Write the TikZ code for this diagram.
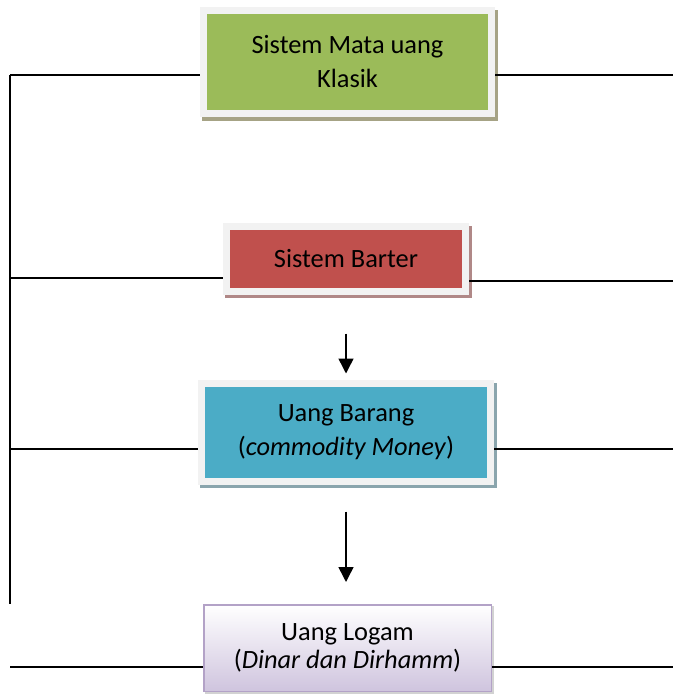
\documentclass[tikz,border=0pt]{standalone}
\usepackage{fontspec}
\setmainfont{Carlito}
\usetikzlibrary{arrows.meta,positioning,backgrounds}
\definecolor{klasikgreen}{HTML}{9BBB59}
\definecolor{barterred}{HTML}{C0504D}
\definecolor{barangblue}{HTML}{4BACC6}
\definecolor{logamedge}{HTML}{B3A2C7}
\definecolor{logamfill}{HTML}{CFC4DE}
\definecolor{framegray}{HTML}{F2F2F2}
\tikzset{
  stage/.style={draw=framegray, line width=7pt, align=center, inner sep=0pt,
    font=\fontsize{26.4}{34}\selectfont},
  link/.style={line width=1.5pt},
  flow/.style={line width=1.5pt, -{Triangle[width=15pt,length=15pt]}}
}

\begin{document}
\begin{tikzpicture}[x=1pt, y=-1pt]
  \useasboundingbox (0,0) rectangle (673,695);
  \node (klasik) [stage, fill=klasikgreen, minimum width=288pt, minimum height=103pt]
    at (347.5,62) {Sistem Mata uang\\Klasik};
  \node (barter) [stage, fill=barterred, minimum width=239pt, minimum height=65pt,
    below=106pt of klasik, xshift=-1.5pt] {Sistem Barter};
  \node (barang) [stage, fill=barangblue, minimum width=289pt, minimum height=98pt,
    below=85pt of barter] {Uang Barang\\(\textit{commodity Money})};
  \node (logam) [draw=logamedge, line width=1.5pt, top color=white, bottom color=logamfill,
    align=center, inner sep=0pt, font=\fontsize{26.4}{28}\selectfont,
    minimum width=287.5pt, minimum height=86.5pt, below=119pt of barang, xshift=1.5pt]
    {Uang Logam\\(\textit{Dinar dan Dirhamm})};
  % shadows behind the boxes
  \begin{scope}[on background layer]
    \fill[gray!75!olive!80] ([shift={(2,3)}]klasik.north west) rectangle ([shift={(3,4)}]klasik.south east);
    \fill[barterred!45!gray!80] ([shift={(2,3)}]barter.north west) rectangle ([shift={(3,3)}]barter.south east);
    \fill[barangblue!35!gray!80] ([shift={(2,3)}]barang.north west) rectangle ([shift={(3,3)}]barang.south east);
    \fill[gray!35] ([shift={(2,2)}]logam.north west) rectangle ([shift={(2,2)}]logam.south east);
  \end{scope}
  % left trunk
  \coordinate (l1) at (10,75);
  \coordinate (l2) at (10,278);
  \coordinate (l3) at (10,449);
  \coordinate (l4) at (10,667);
  \coordinate (trunkend) at (10,604);
  \draw[link] (l1) -- (trunkend);
  \draw[link] (l1) -- (l1 -| klasik.west);
  \draw[link] (l2) -- (l2 -| barter.west);
  \draw[link] (l3) -- (l3 -| barang.west);
  \draw[link] (l4) -- (l4 -| logam.west);
  % right side
  \coordinate (r1) at (673,75);
  \coordinate (r2) at (673,281);
  \coordinate (r3) at (673,449);
  \coordinate (r4) at (673,667);
  \draw[link] (r1 -| klasik.east) -- (r1);
  \draw[link] (r2 -| barter.east) -- (r2);
  \draw[link] (r3 -| barang.east) -- (r3);
  \draw[link] (r4 -| logam.east) -- (r4);
  % arrows
  \draw[flow, shorten <=38.5pt, shorten >=6.5pt] (barter.south) -- (barter.south |- barang.north);
  \draw[flow, shorten <=26.5pt, shorten >=22pt] (barang.south) -- (barang.south |- logam.north);
\end{tikzpicture}
\end{document}
